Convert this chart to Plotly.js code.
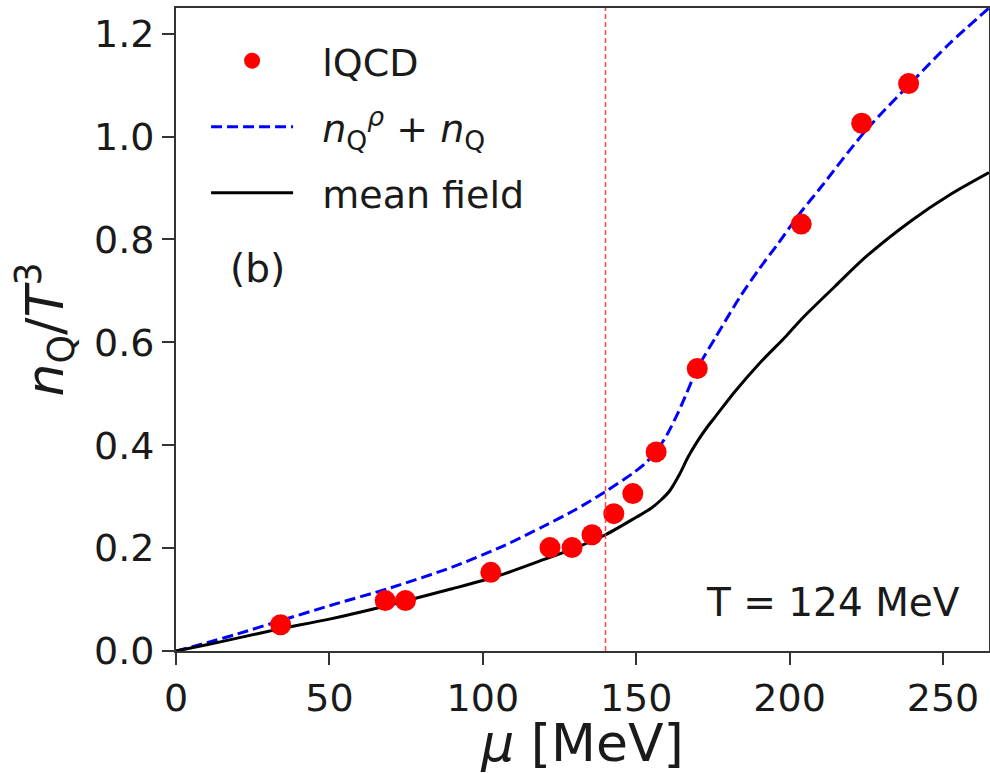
<!DOCTYPE html>
<html>
<head>
<meta charset="utf-8">
<script src="https://cdn.plot.ly/plotly-3.0.1.min.js"></script>
<style>html,body{margin:0;padding:0;background:#fff;}#chart{width:990px;height:773px;}</style>
</head>
<body>
<div id="chart"></div>
<script>
// lattice QCD points
const muLQCD = [34.1, 68.2, 74.8, 102.6, 121.9, 129.1, 135.6, 142.7, 148.9, 156.5, 169.9, 203.8, 223.5, 238.8];
const nLQCD  = [0.051, 0.098, 0.098, 0.153, 0.201, 0.201, 0.226, 0.267, 0.306, 0.387, 0.549, 0.830, 1.026, 1.103];

// n_Q^rho + n_Q (blue dashed)
const muRho = [0, 10, 20, 33, 50, 70, 90, 107, 120, 130, 140, 149, 153, 157, 160, 163, 166, 170, 176, 180, 184, 190, 196, 203, 210, 225, 240, 252, 265];
const nRho  = [0, 0.016, 0.033, 0.057, 0.088, 0.123, 0.163, 0.205, 0.243, 0.274, 0.31, 0.346, 0.365, 0.392, 0.42, 0.455, 0.495, 0.55, 0.611, 0.651, 0.69, 0.742, 0.79, 0.848, 0.9, 1.013, 1.107, 1.18, 1.25];

// mean field (black solid)
const muMF = [0, 10, 20, 33, 50, 70, 90, 100, 107, 120, 130, 140, 150, 155, 158, 161, 164, 167, 170, 173, 176, 182, 190, 199, 204, 215, 225, 240, 252, 265];
const nMF  = [0, 0.012, 0.025, 0.042, 0.062, 0.09, 0.121, 0.137, 0.15, 0.178, 0.2, 0.226, 0.26, 0.278, 0.293, 0.312, 0.342, 0.378, 0.408, 0.434, 0.457, 0.503, 0.558, 0.613, 0.646, 0.71, 0.767, 0.838, 0.886, 0.93];

const muPc = 140;   // vertical marker
const xRange = [0, 265];
const yRange = [0, 1.25];
const xTicks = [0, 50, 100, 150, 200, 250];
const yTicks = [0.0, 0.2, 0.4, 0.6, 0.8, 1.0, 1.2];
const yTickText = ['0.0', '0.2', '0.4', '0.6', '0.8', '1.0', '1.2'];

const FONT = 'DejaVu Sans, Arial, sans-serif';
const NB = '\u00a0';

const traceLQCD = {
  x: muLQCD, y: nLQCD, mode: 'markers', type: 'scatter', name: NB + NB + 'lQCD',
  legend: 'legend',
  marker: {color: '#ff0000', size: 21, line: {width: 0}},
  cliponaxis: false
};
const traceRho = {
  x: muRho, y: nRho, mode: 'lines', type: 'scatter',
  name: NB + NB + '<i>n</i><sub>Q</sub><sup><i>ρ</i></sup> + <i>n</i><sub>Q</sub>',
  legend: 'legend2',
  line: {color: '#0000ff', width: 3, dash: '11px,5px', shape: 'spline', smoothing: 0.8}
};
const traceMF = {
  x: muMF, y: nMF, mode: 'lines', type: 'scatter', name: NB + NB + 'mean field',
  legend: 'legend3',
  line: {color: '#000000', width: 3, shape: 'spline', smoothing: 0.8}
};
const data = [traceRho, traceMF, traceLQCD];

function leg(yc) {
  return {
    x: 0.037, y: yc, xanchor: 'left', yanchor: 'middle',
    bgcolor: 'rgba(255,255,255,0)', borderwidth: 0,
    font: {family: FONT, size: 38, color: '#1a1a1a'},
    itemwidth: 82
  };
}
// paper y for pixel rows 61, 127, 193 (plot top 8, height 643)
const layout = {
  width: 990, height: 773,
  margin: {l: 176, r: 1, t: 8, b: 122},
  paper_bgcolor: '#ffffff', plot_bgcolor: '#ffffff',
  font: {family: FONT, size: 38, color: '#1a1a1a'},
  showlegend: true,
  legend: leg(1 - (61 - 8) / 643),
  legend2: leg(1 - (127 - 8) / 643),
  legend3: leg(1 - (193 - 8) / 643),
  xaxis: {
    range: xRange, tickvals: xTicks, ticks: 'outside', ticklen: 12, tickwidth: 2, tickcolor: '#333',
    showline: true, linecolor: '#333', linewidth: 2, mirror: true,
    showgrid: false, zeroline: false,
    tickfont: {family: FONT, size: 38, color: '#1a1a1a'},
    title: {text: '<i>μ</i> [MeV]', font: {family: FONT, size: 52, color: '#1a1a1a'}, standoff: 8}
  },
  yaxis: {
    range: yRange, tickvals: yTicks, ticktext: yTickText, ticks: 'outside', ticklen: 12, tickwidth: 2, tickcolor: '#333',
    showline: true, linecolor: '#333', linewidth: 2, mirror: true,
    showgrid: false, zeroline: false,
    tickfont: {family: FONT, size: 38, color: '#1a1a1a'},
    title: {text: '<i>n</i><sub>Q</sub>/<i>T</i><sup>3</sup>', font: {family: FONT, size: 52, color: '#1a1a1a'}, standoff: 14}
  },
  shapes: [
    {type: 'line', xref: 'x', yref: 'paper', x0: muPc, x1: muPc, y0: 0, y1: 1,
     line: {color: 'rgba(255,40,40,0.85)', width: 1.5, dash: '5px,3px'}}
  ],
  annotations: [
    {xref: 'paper', yref: 'paper', x: 0.1, y: 0.595, xanchor: 'center', yanchor: 'middle',
     text: '(b)', showarrow: false, font: {family: FONT, size: 39, color: '#1a1a1a'}},
    {xref: 'paper', yref: 'paper', x: 0.967, y: 0.075, xanchor: 'right', yanchor: 'middle',
     text: 'T = 124 MeV', showarrow: false, font: {family: FONT, size: 39, color: '#1a1a1a'}}
  ]
};

Plotly.newPlot('chart', data, layout, {displayModeBar: false, staticPlot: true});
</script>
</body>
</html>
